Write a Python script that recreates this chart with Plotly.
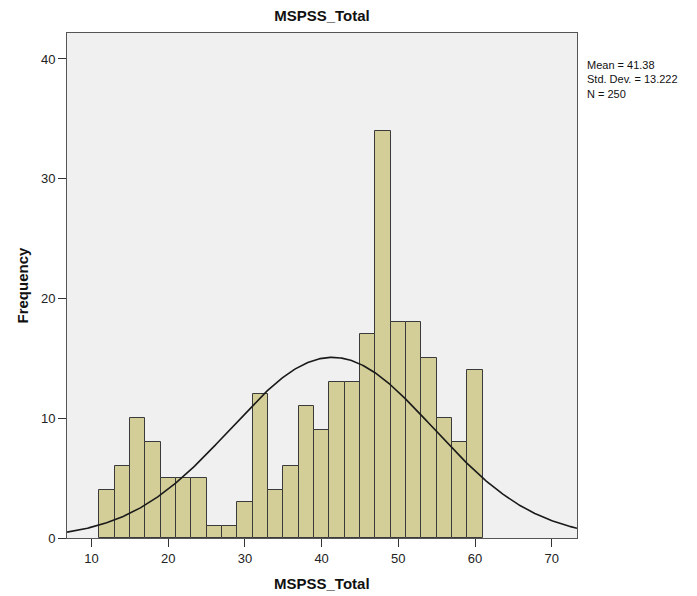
import numpy as np
import plotly.graph_objects as go

bin_start = 11
bin_width = 2
counts = [4, 6, 10, 8, 5, 5, 5, 1, 1, 3, 12, 4, 6, 11, 9, 13, 13, 17, 34, 18, 18, 15, 10, 8, 14]
mean = 41.38
sd = 13.222
n = 250
x_ticks = [10, 20, 30, 40, 50, 60, 70]
y_ticks = [0, 10, 20, 30, 40]

centers = [bin_start + bin_width * (i + 0.5) for i in range(len(counts))]

xr = [6.8, 73.3]
xs = np.linspace(xr[0], xr[1], 400)
ys = n * bin_width / (sd * np.sqrt(2 * np.pi)) * np.exp(-0.5 * ((xs - mean) / sd) ** 2)

fig = go.Figure()
fig.add_trace(go.Bar(x=centers, y=counts, width=bin_width,
                     marker=dict(color="#d3ce97", line=dict(color="#3a3a3a", width=1)),
                     showlegend=False, hoverinfo="x+y"))
fig.add_trace(go.Scatter(x=xs, y=ys, mode="lines", line=dict(color="#1a1a1a", width=1.6),
                         showlegend=False))

W, H = 689, 588
L, T, R, B = 59, 25, 120, 58
font = "Liberation Sans, Arial, sans-serif"
fig.update_layout(
    width=W, height=H,
    margin=dict(l=L, r=R, t=T, b=B, autoexpand=False),
    paper_bgcolor="white", plot_bgcolor="#f0f0f0",
    bargap=0,
    font=dict(family=font, size=13, color="#222"),
    title=dict(text="<b>MSPSS_Total</b>", x=(L + (W - R)) / 2 / W, xanchor="center",
               y=1 - 8 / H, yanchor="middle", font=dict(size=15, color="#111")),
    xaxis=dict(range=xr, tickvals=x_ticks, ticks="outside", ticklen=8, tickcolor="#333",
               showgrid=False, zeroline=False, showline=True, linecolor="#555", linewidth=1,
               mirror=True, automargin=False, tickfont=dict(size=13, color="#222")),
    yaxis=dict(range=[0, 42.17], tickvals=y_ticks, ticks="outside", ticklen=8, tickcolor="#333",
               showgrid=False, zeroline=False, showline=True, linecolor="#555", linewidth=1,
               mirror=True, automargin=False, tickfont=dict(size=13, color="#222")),
    annotations=[
        dict(text=f"Mean = {mean:.2f}<br>Std. Dev. = {sd:.3f}<br>N = {n}",
             xref="paper", yref="paper", x=1.015, y=1 - 24 / 505,
             xanchor="left", yanchor="top", align="left", showarrow=False,
             font=dict(size=11, color="#111")),
        dict(text="<b>MSPSS_Total</b>", xref="paper", yref="paper", x=0.5, y=0,
             yshift=-45, xanchor="center", yanchor="middle", showarrow=False,
             font=dict(size=15, color="#111")),
        dict(text="<b>Frequency</b>", xref="paper", yref="paper", x=0, y=0.5,
             xshift=-45, xanchor="center", yanchor="middle", textangle=-90, showarrow=False,
             font=dict(size=15, color="#111")),
    ],
)

fig.write_html("out.html")
